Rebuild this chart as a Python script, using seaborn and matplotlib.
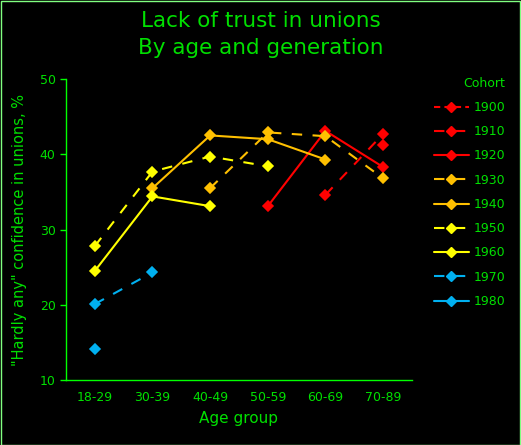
import matplotlib
matplotlib.use("Agg")
import matplotlib.pyplot as plt
from matplotlib.lines import Line2D
from matplotlib.patches import Rectangle
import numpy as np
import pandas as pd
import seaborn as sns

# Data
age_groups = ["18-29", "30-39", "40-49", "50-59", "60-69", "70-89"]
cohorts = ["1900", "1910", "1920", "1930", "1940", "1950", "1960", "1970", "1980"]

c1900 = {"70-89": 41.2}
c1910 = {"60-69": 34.6, "70-89": 42.7}
c1920 = {"50-59": 33.1, "60-69": 43.1, "70-89": 38.3}
c1930 = {"40-49": 35.5, "50-59": 42.9, "60-69": 42.4, "70-89": 36.8}
c1940 = {"30-39": 35.5, "40-49": 42.5, "50-59": 42.0, "60-69": 39.3}
c1950 = {"18-29": 27.8, "30-39": 37.7, "40-49": 39.7, "50-59": 38.4}
c1960 = {"18-29": 24.5, "30-39": 34.4, "40-49": 33.1}
c1970 = {"18-29": 20.1, "30-39": 24.3}
c1980 = {"18-29": 14.1}

series = [c1900, c1910, c1920, c1930, c1940, c1950, c1960, c1970, c1980]

colors = ["#ff0000", "#ff0000", "#ff0000", "#ffc000", "#ffc000",
          "#ffff00", "#ffff00", "#00b0f0", "#00b0f0"]
styles = [(0, (3, 2)), (0, (5, 5)), "-", (0, (5, 5)), "-",
          (0, (5, 5)), "-", (0, (5, 5)), "-"]

GREEN = "#00e000"

rows = []
for name, s in zip(cohorts, series):
    for age, val in s.items():
        rows.append({"cohort": name, "age": age, "value": val})
df = pd.DataFrame(rows)

sns.set_theme(style="dark")
plt.rcParams["font.family"] = ["DejaVu Sans"]

fig = plt.figure(figsize=(5.21, 4.45), dpi=100, facecolor="black")
ax = fig.add_axes([0.1267, 0.146, 0.664, 0.6765])
ax.set_facecolor("black")

sns.pointplot(
    data=df, x="age", y="value", hue="cohort",
    order=age_groups, hue_order=cohorts,
    palette=dict(zip(cohorts, colors)),
    markers="D", linestyles=styles,
    errorbar=None, markersize=5.5, linewidth=1.5,
    legend=False, ax=ax,
)

ax.set_ylim(10, 50)
ax.set_xlim(-0.5, 5.5)
ax.set_yticks([10, 20, 30, 40, 50])
ax.set_xticks(range(len(age_groups)))
ax.set_xticklabels(age_groups)
ax.set_xticks(np.arange(-0.5, 6, 1), minor=True)
ax.tick_params(axis="x", which="major", length=0, colors=GREEN, labelsize=9, pad=8)
ax.tick_params(axis="x", which="minor", length=4, color="#00ff00", direction="out", width=1)
ax.tick_params(axis="y", length=4, color="#00ff00", labelcolor=GREEN, labelsize=9,
               direction="out", width=1, left=True)
ax.grid(False)
for side in ["top", "right"]:
    ax.spines[side].set_visible(False)
for side in ["left", "bottom"]:
    ax.spines[side].set_color("#00ff00")
    ax.spines[side].set_linewidth(1)

ax.set_xlabel("Age group", color=GREEN, fontsize=11, labelpad=5)
ax.set_ylabel('"Hardly any" confidence in unions, %', color=GREEN, fontsize=10.5, labelpad=9)

fig.text(0.5, 0.975, "Lack of trust in unions\nBy age and generation",
         ha="center", va="top", color=GREEN, fontsize=15.5, linespacing=1.4)

handles = [Line2D([], [], color=c, linestyle=ls, marker="D", markersize=5.5, linewidth=1.5)
           for c, ls in zip(colors, styles)]
leg = ax.legend(handles, cohorts, title="Cohort", loc="upper left",
                bbox_to_anchor=(1.03, 1.045), frameon=False, fontsize=9,
                title_fontsize=9, handlelength=2.8, labelspacing=0.9,
                handletextpad=0.4)
for t in leg.get_texts():
    t.set_color(GREEN)
leg.get_title().set_color(GREEN)
leg._legend_box.align = "right"

fig.patches.append(Rectangle((0.001, 0.001), 0.997, 0.997, transform=fig.transFigure,
                             fill=False, edgecolor="#80ff80", linewidth=1))

fig.savefig("out.png", dpi=100, facecolor="black")
